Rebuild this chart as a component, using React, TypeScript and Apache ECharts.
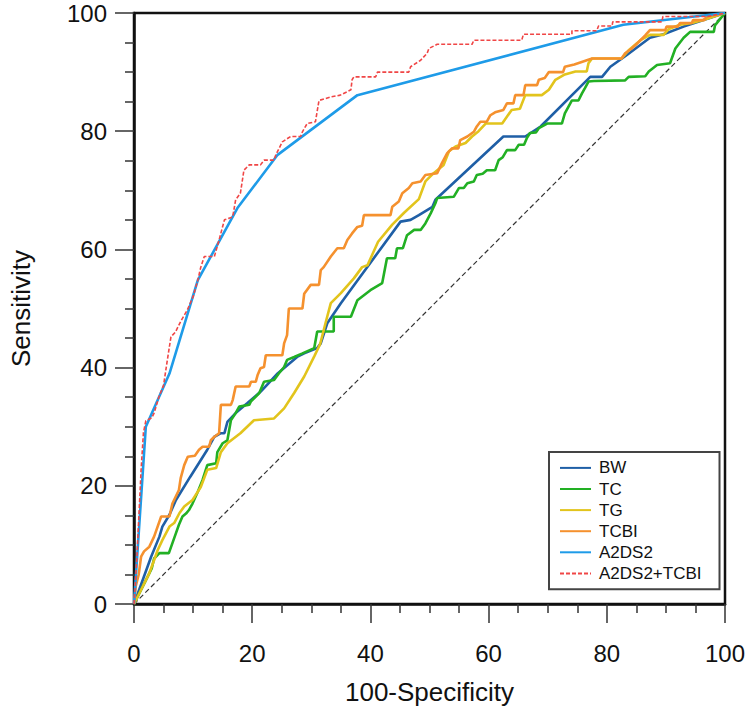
import React, { useEffect, useRef } from "react";
import * as echarts from "echarts";

const seriesNames = ["BW", "TC", "TG", "TCBI", "A2DS2", "A2DS2+TCBI"];
const xTicks = [0, 20, 40, 60, 80, 100];

const bw = [[0,0],[2.9,8],[4.3,11.4],[4.8,13.1],[6,15.1],[7.1,17.6],[9.5,21.5],[12.4,26.1],[13,27.2],[13.6,28.3],[14.7,28.9],[15.3,28.9],[15.8,30.8],[17.2,32.3],[19.2,34],[21.4,35.9],[24.3,39],[27.6,41.8],[28.8,42.4],[31,43.3],[31.6,44.1],[32.7,47.5],[35,50.9],[45.1,64.7],[46.8,65],[48.2,65.8],[50.5,67.2],[51,68.4],[62.5,79.1],[66.2,79.1],[68.8,80.8],[77.2,89.2],[79.2,89.2],[80.6,90.9],[83.4,92.9],[87.3,95.8],[89.6,96.4],[93,97.7],[100,100]];

const tc = [[0,0],[1,2],[2,4],[3,6],[3.4,7.7],[4.3,8.6],[5.9,8.6],[6.5,10.3],[7.1,12],[7.6,13.4],[8.2,14.8],[8.8,15.3],[9.3,15.9],[9.9,17],[10.8,19],[11.6,21],[12.4,23.5],[13.9,23.8],[14.1,25.7],[15,27.2],[15.8,27.7],[16.4,31.1],[17.2,32.3],[17.8,33.4],[19.5,33.7],[19.8,34.3],[21.2,35.7],[22,37.6],[23.7,37.9],[24.5,39],[25.4,40.1],[25.9,41.3],[27.1,41.8],[28.5,42.4],[30.5,43.3],[31,46.1],[33.8,46.1],[33.8,48.6],[36.7,48.6],[37.8,51.4],[40,53.1],[42,54.3],[42.8,58.5],[44.2,58.5],[44.5,60.2],[45.5,60.2],[46.2,62.4],[47.4,63.3],[48.5,63.3],[49.3,64.4],[50.2,66.1],[51,67.8],[51.3,68.7],[54.1,68.9],[55,70.4],[55.8,70.4],[56.4,71.2],[57.5,71.5],[58,72.6],[59,72.8],[59.7,73.4],[61.1,73.4],[61.7,75.1],[62.4,75.6],[63.1,76.8],[64.5,76.8],[65.1,77.7],[66,77.7],[66.5,78.9],[67,79.7],[68,79.8],[68.5,80.5],[69.9,81.3],[72.4,81.3],[72.9,83],[74.1,85.2],[75.2,85.2],[75.8,86.4],[76.3,87.3],[76.9,88.4],[77.8,88.5],[83.1,88.6],[83.7,89.2],[86.5,89.3],[87.1,90.1],[88.5,91.2],[90.7,91.5],[91.6,94],[93,95.8],[94.1,96.8],[98.1,96.8],[98.3,97.9],[100,100]];

const tg = [[0,0],[1.5,3],[2.5,5],[3.4,7.4],[4,9.1],[4.8,10.8],[6,13.1],[6.8,13.7],[7.7,15.4],[8.5,16.5],[9.9,17.6],[11.3,19.8],[12.4,22.7],[13.9,23],[14.7,25.7],[15.8,27.2],[18,28.9],[20.3,31.1],[23.7,31.4],[25.4,33.1],[27.1,35.7],[28.8,38.5],[30.5,41.9],[31.5,44],[32.4,47.5],[33.3,50.9],[35,52.6],[37.2,55.1],[38.6,57],[39.5,57.3],[41.3,61.3],[43.7,64.2],[45.7,66.2],[48.2,68.5],[49.3,71.5],[50.7,72.9],[52.4,74.3],[53.3,76.6],[54.4,77.4],[56.1,78],[57.2,79.1],[58.3,80],[59.5,81.3],[62.3,81.3],[63.9,83.6],[65.3,83.8],[66.2,86.1],[69,86.1],[70.2,87],[71.3,88.7],[72.9,89.6],[74.7,90.1],[76.6,90.1],[76.9,91.5],[77.5,92.3],[82.5,92.3],[83.7,93.7],[85.7,95.4],[87.3,96.3],[89.6,96.3],[90.5,97.3],[92.4,98],[94.4,98.3],[96.3,98.8],[100,100]];

const tcbi = [[0,0],[0.3,3],[0.8,5],[1.2,8],[1.7,8.9],[2.6,9.7],[3.4,11.4],[4.6,14.8],[6,14.8],[6.5,17],[7.6,19.3],[7.9,21.3],[8.5,23.5],[9.1,24.9],[10.3,25.1],[11,26.1],[11.6,26.6],[12.7,26.6],[13,27.7],[13.6,28.3],[14.4,28.9],[14.7,33.7],[16.4,33.7],[16.7,34.5],[17.2,36.8],[19.5,36.8],[19.8,37.6],[20.6,37.6],[20.9,38.7],[21.4,39.9],[22,40.1],[22.3,42.1],[25.1,42.1],[25.4,44.1],[25.9,45.5],[26.2,50],[28.5,50],[28.8,52.5],[29.9,54],[31.3,54],[31.6,56.5],[32.1,57],[33.3,58.8],[34.4,60.2],[35.5,60.2],[36.1,61.6],[36.9,62.7],[37.8,63.8],[38.6,64],[38.9,65.8],[43.4,65.8],[43.7,67.2],[44.8,68.1],[45.4,69.5],[46.5,70.4],[47.1,71.2],[48.5,71.5],[49.3,72.6],[51.3,72.9],[52.1,74.6],[53,76.3],[53.8,77.1],[54.9,77.1],[55.2,78.5],[56.4,79.1],[57.5,79.9],[58,80.8],[58.6,81.6],[59.7,81.6],[60.3,82.7],[61.1,83.2],[62.5,83.6],[63.1,84.7],[64.2,84.7],[64.5,86.1],[65.9,86.1],[66.2,87.8],[68.2,87.8],[68.5,88.7],[69.5,89],[70.2,90],[72.6,90],[72.9,90.9],[74.5,91.3],[77.5,92.3],[82.5,92.3],[83.1,93.2],[84.2,94],[85.4,95.1],[86.5,96.2],[87.3,97.1],[89.9,97.1],[90.1,97.7],[92,97.7],[92.4,98.3],[94.4,98.3],[94.6,98.8],[96.5,98.8],[96.9,99.4],[100,100]];

const a2ds2 = [[0,0],[2,30],[6,39],[10.8,54.8],[17.5,67],[24.3,76],[37.8,86.1],[82.8,98],[100,100]];

const a2ds2Tcbi = [[0,0],[0.5,8],[1.2,22.7],[1.6,29],[2,31],[3,31.5],[3.4,32.3],[4.2,35],[5,37],[5.6,41],[6.25,45.2],[7,46],[8,48],[9,49.7],[10,52],[10.8,54.8],[11.3,57],[11.9,58.8],[13.6,58.8],[14.4,61.6],[15.3,65],[16.7,65.5],[17.2,68.4],[18,69.5],[18.6,73.4],[19.5,74.3],[21.4,74.3],[22,75.1],[23.7,75.1],[24,76],[25.1,78.2],[26.5,79.1],[28.2,79.1],[28.5,79.9],[29.3,81.3],[30.7,81.6],[31.3,85.2],[33.3,85.8],[34.9,86.1],[36.7,87],[36.9,88.7],[37.2,89.2],[40.9,89.2],[41.2,90],[46.5,90],[46.8,90.9],[48.5,92],[49.6,93.2],[49.9,94],[51.3,94.7],[57.2,94.7],[57.5,95.4],[65.6,95.4],[65.9,96.4],[74.1,96.4],[74.1,97],[78.3,97],[78.6,97.8],[80.9,97.8],[81,98.5],[89.3,98.5],[89.5,99.4],[97,99.4],[100,100]];

const diagonal = [[0,0],[100,100]];

const seriesData = [bw, tc, tg, tcbi, a2ds2, a2ds2Tcbi];
const seriesColors = ["#1f5fa6", "#22b024", "#e2c41c", "#f5912e", "#1e9be8", "#f04646"];

const FONT = "'Liberation Sans', Arial, sans-serif";

export default function App() {
  const ref = useRef<HTMLDivElement>(null);
  useEffect(() => {
    if (!ref.current) return;
    const chart = echarts.init(ref.current, null, { renderer: "svg" });
    const axisCommon = {
      type: "value",
      min: 0,
      max: 100,
      interval: 20,
      nameLocation: "middle",
      axisLine: { show: true, lineStyle: { color: "#111", width: 2.5 } },
      axisTick: { show: true, length: 19, lineStyle: { color: "#333", width: 1.5 } },
      minorTick: { show: true, splitNumber: 4, length: 9, lineStyle: { color: "#333", width: 1.5 } },
      splitLine: { show: false },
      minorSplitLine: { show: false },
    };
    const lines = seriesNames.map((name, i) => ({
      name,
      type: "line",
      data: seriesData[i],
      symbol: "none",
      showSymbol: false,
      z: 3 + i,
      lineStyle: i === 5
        ? { color: seriesColors[i], width: 1.6, type: [4, 2] }
        : { color: seriesColors[i], width: 2.6 },
      itemStyle: { color: seriesColors[i] },
    }));
    chart.setOption({
      animation: false,
      backgroundColor: "#fff",
      grid: {
        left: 133, right: 25, top: 13, bottom: 109,
        show: true, borderColor: "#111", borderWidth: 2.5, backgroundColor: "transparent",
      },
      legend: {
        data: seriesNames,
        orient: "vertical",
        left: 549,
        top: 452,
        itemWidth: 31,
        itemHeight: 14,
        itemGap: 4.1,
        padding: [7.4, 18, 7.4, 10],
        borderColor: "#444",
        borderWidth: 2,
        backgroundColor: "#fff",
        itemStyle: { opacity: 0 },
        textStyle: { fontSize: 17, color: "#111", fontFamily: FONT, padding: [0, 0, 0, 3] },
      },
      xAxis: {
        ...axisCommon,
        name: "100-Specificity",
        nameGap: 75,
        nameTextStyle: { fontSize: 26, color: "#111", fontFamily: FONT },
        axisLabel: { fontSize: 24, color: "#111", margin: 37, fontFamily: FONT,
          formatter: (v: number) => (xTicks.includes(v) ? String(v) : "") },
      },
      yAxis: {
        ...axisCommon,
        name: "Sensitivity",
        nameGap: 100,
        nameTextStyle: { fontSize: 26, color: "#111", fontFamily: FONT },
        axisLabel: { fontSize: 24, color: "#111", margin: 27, fontFamily: FONT },
      },
      series: [
        {
          name: "diag",
          type: "line",
          data: diagonal,
          symbol: "none",
          z: 2,
          lineStyle: { color: "#333", width: 1.2, type: [5, 3] },
        },
        ...lines,
      ],
    });
    return () => chart.dispose();
  }, []);
  return (
    <div
      ref={ref}
      style={{ position: "fixed", left: 0, top: 0, width: 750, height: 713, background: "#fff" }}
    />
  );
}
